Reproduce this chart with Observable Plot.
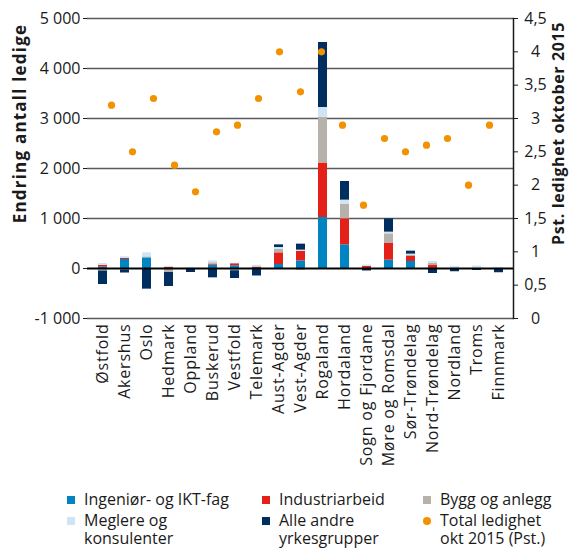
<!DOCTYPE html>
<html>
<head>
<meta charset="utf-8">
<script src="https://cdn.jsdelivr.net/npm/d3@7"></script>
<script src="https://cdn.jsdelivr.net/npm/@observablehq/plot@0.6"></script>
<style>
  html, body { margin: 0; padding: 0; background: #fff; }
  #wrap { position: relative; width: 574px; height: 549px; font-family: "Open Sans", sans-serif; color: #1a1a1a; }
  #wrap svg { position: absolute; left: 0; top: 0; }
  .lg { position: absolute; font-size: 16px; line-height: 17.5px; color: #1a1a1a; }
  .lg .m { position: absolute; left: 0; top: 5px; width: 8px; height: 8px; }
  .lg .t { position: absolute; left: 17px; top: 0; white-space: nowrap; }
</style>
</head>
<body>
<div id="wrap"></div>
<script>
const counties = ["Østfold","Akershus","Oslo","Hedmark","Oppland","Buskerud","Vestfold","Telemark","Aust-Agder","Vest-Agder","Rogaland","Hordaland","Sogn og Fjordane","Møre og Romsdal","Sør-Trøndelag","Nord-Trøndelag","Nordland","Troms","Finnmark"];
const seriesNames = ["Ingeniør- og IKT-fag","Industriarbeid","Bygg og anlegg","Meglere og konsulenter","Alle andre yrkesgrupper"];
const seriesColors = ["#0085C2","#E32119","#B7B1AC","#CFE5F6","#002F5F"];
const ingenior   = [30, 180, 213, 0, 0, 67, 55, 0, 80, 153, 1020, 473, 0, 167, 140, 0, 0, 0, 0];
const industri   = [30, 20, 0, 20, 0, 20, 40, 20, 233, 187, 1090, 520, 40, 333, 100, 70, 0, 0, 0];
const bygg       = [-50, -30, 20, -80, 0, 27, -45, 15, 73, -40, 915, 294, 0, 193, 27, 30, 0, 0, 0];
const meglere    = [40, 35, 80, 25, 15, 40, 10, 30, 34, 27, 195, 80, 30, 34, 20, 40, 40, 50, 20];
const alleAndre  = [-270, -60, -413, -280, -80, -187, -155, -150, 53, 120, 1300, 373, -50, 266, 60, -100, -65, -40, -85];
const ledighet   = [3.2, 2.5, 3.3, 2.3, 1.9, 2.8, 2.9, 3.3, 4.0, 3.4, 4.0, 2.9, 1.7, 2.7, 2.5, 2.6, 2.7, 2.0, 2.9];
const leftTicks  = [-1000, 0, 1000, 2000, 3000, 4000, 5000];
const rightTicks = [0, 0.5, 1, 1.5, 2, 2.5, 3, 3.5, 4, 4.5];

const seriesValues = [ingenior, industri, bygg, meglere, alleAndre];
const rows = [];
counties.forEach((c, i) => {
  seriesNames.forEach((s, k) => rows.push({county: c, series: s, value: seriesValues[k][i]}));
});
const dots = counties.map((c, i) => ({county: c, rate: ledighet[i]}));

const fmtLeft = n => (n < 0 ? "-" : "") + d3.format(",")(Math.abs(n)).replace(/,/g, " ");
const fmtRight = n => String(n).replace(".", ",");

const W = 574, H = 490, ML = 87, MR = 61, MT = 18, MB = 172;
const font = "'Open Sans', sans-serif";

const p1 = Plot.plot({
  width: W, height: H,
  marginLeft: ML, marginRight: MR, marginTop: MT, marginBottom: MB,
  style: {fontFamily: font, fontSize: "16px", color: "#1a1a1a", background: "transparent", overflow: "visible"},
  x: {domain: counties, paddingInner: 0.6, paddingOuter: 0.31, label: null},
  y: {domain: [-1000, 5000], label: null},
  color: {domain: seriesNames, range: seriesColors},
  marks: [
    Plot.ruleY(leftTicks.filter(d => d !== 0), {stroke: "#5a5a5a", strokeWidth: 1.3}),
    Plot.barY(rows, Plot.stackY({x: "county", y: "value", fill: "series"})),
    Plot.ruleY([0], {stroke: "#000", strokeWidth: 2}),
    Plot.axisY(leftTicks, {anchor: "left", tickSize: 4, tickPadding: 3, tickFormat: fmtLeft, fontSize: 16, label: null}),
    Plot.axisX({anchor: "bottom", tickSize: 0, tickPadding: 5, tickRotate: -90, fontSize: 16, label: null}),
    Plot.text(["Endring antall ledige"], {frameAnchor: "left", textAnchor: "middle", rotate: -90, dx: -67, dy: -45, fontWeight: "bold", fontSize: 17})
  ]
});

const p2 = Plot.plot({
  width: W, height: H,
  marginLeft: ML, marginRight: MR, marginTop: MT, marginBottom: MB,
  style: {fontFamily: font, fontSize: "16px", color: "#1a1a1a", background: "transparent", overflow: "visible"},
  x: {type: "point", domain: counties, padding: 0.95, axis: null},
  y: {domain: [0, 4.5], label: null},
  marks: [
    Plot.frame({anchor: "right", stroke: "#1a1a1a", strokeWidth: 1.5}),
    Plot.axisY(rightTicks, {anchor: "right", tickSize: 4, tickPadding: 18, textAnchor: "middle", tickFormat: fmtRight, fontSize: 16, label: null}),
    Plot.dot(dots, {x: "county", y: "rate", r: 3.6, fill: "#F39200"}),
    Plot.text(["Pst. ledighet oktober 2015"], {frameAnchor: "right", textAnchor: "middle", rotate: -90, dx: 45, dy: -35, fontWeight: "bold", fontSize: 16})
  ]
});

d3.select(p1).selectAll('g[aria-label="x-axis tick label"] text').attr("letter-spacing", "0.8px");
d3.select(p1).selectAll('g[aria-label="text"] text').attr("letter-spacing", "1.2px");
d3.select(p2).selectAll('g[aria-label="text"] text').attr("letter-spacing", "0.6px");

const wrap = document.getElementById("wrap");
wrap.appendChild(p1);
wrap.appendChild(p2);

const legendItems = [
  {name: "Ingeniør- og IKT-fag", color: seriesColors[0], col: 0, row: 0},
  {name: "Industriarbeid", color: seriesColors[1], col: 1, row: 0},
  {name: "Bygg og anlegg", color: seriesColors[2], col: 2, row: 0},
  {name: "Meglere og<br>konsulenter", color: seriesColors[3], col: 0, row: 1},
  {name: "Alle andre<br>yrkesgrupper", color: seriesColors[4], col: 1, row: 1},
  {name: "Total ledighet<br>okt 2015 (Pst.)", color: "#F39200", col: 2, row: 1, circle: true}
];
const colX = [67, 262, 423];
const rowY = [491, 512];
legendItems.forEach(it => {
  const d = document.createElement("div");
  d.className = "lg";
  d.style.left = colX[it.col] + "px";
  d.style.top = rowY[it.row] + "px";
  d.innerHTML = `<span class="m" style="background:${it.color};${it.circle ? "border-radius:50%;" : ""}"></span><span class="t">${it.name}</span>`;
  wrap.appendChild(d);
});
</script>
</body>
</html>
